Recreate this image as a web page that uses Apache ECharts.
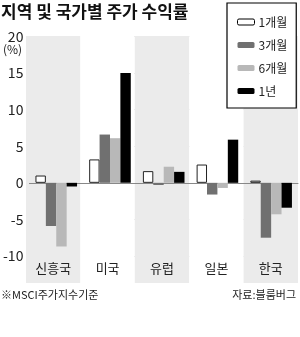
<!DOCTYPE html>
<html><head><meta charset="utf-8">
<script src="https://cdn.jsdelivr.net/npm/echarts@6/dist/echarts.min.js"></script>
<style>html,body{margin:0;padding:0;background:#fff}#c{width:300px;height:337px}</style>
</head><body><div id="c"></div>
<script>
const categories = ['신흥국', '미국', '유럽', '일본', '한국'];
const seriesNames = ['1개월', '3개월', '6개월', '1년'];
const m1 = [1.0, 3.2, 1.6, 2.5, 0.3];
const m3 = [-5.9, 6.6, -0.3, -1.6, -7.5];
const m6 = [-8.7, 6.1, 2.2, -0.7, -4.3];
const y1 = [-0.5, 15.0, 1.5, 5.9, -3.4];
const yTicks = [-10, -5, 0, 5, 10, 15, 20];

const colors = ['#ffffff', '#707070', '#b8b8b8', '#000000'];
const values = [m1, m3, m6, y1];
const FONT = '"Liberation Sans Narrow", "Noto Sans CJK KR", sans-serif';
const KFONT = '"Noto Sans CJK KR", sans-serif';

const chart = echarts.init(document.getElementById('c'), null, {renderer: 'canvas'});
chart.setOption({
  animation: false,
  backgroundColor: '#fff',
  title: [
    {text: '지역 및 국가별 주가 수익률', left: 1, top: 3, padding: 0,
     textStyle: {fontFamily: KFONT, fontSize: 17, fontWeight: 'bold', color: '#111'}},
    {text: '(%)', left: 3, top: 43, padding: 0,
     textStyle: {fontFamily: FONT, fontSize: 12, fontWeight: 'normal', color: '#222'}},
    {text: '※MSCI주가지수기준', left: 1, top: 289, padding: 0,
     textStyle: {fontFamily: KFONT, fontSize: 11, fontWeight: 'normal', color: '#222'}},
    {text: '자료:블룸버그', right: 4, top: 289, padding: 0,
     textStyle: {fontFamily: KFONT, fontSize: 11, fontWeight: 'normal', color: '#222'}}
  ],
  legend: {
    orient: 'vertical', left: 227, top: 3,
    padding: [12, 9, 10, 10],
    itemWidth: 17, itemHeight: 6, itemGap: 9, selectedMode: false,
    backgroundColor: '#fff', borderColor: '#000', borderWidth: 1.2, borderRadius: 0,
    textStyle: {fontFamily: KFONT, fontSize: 12, color: '#222', lineHeight: 14, padding: [0, 0, 0, -1]},
    data: seriesNames.map((n, i) => ({name: n, itemStyle: i === 0 ? {color: '#fff', borderColor: '#000', borderWidth: 1} : {color: colors[i]}}))
  },
  grid: [
    {left: 26, right: 2, top: 36, bottom: 54},
    {left: 26, right: 2, top: 36.5, bottom: 81}
  ],
  xAxis: [
    {type: 'category', gridIndex: 0, data: categories,
     axisLine: {show: false}, axisTick: {show: false},
     axisLabel: {inside: true, margin: 8, fontFamily: KFONT, fontSize: 13, color: '#222'},
     splitArea: {show: true, areaStyle: {color: ['#ebebeb', '#ffffff']}}},
    {type: 'category', gridIndex: 1, data: categories,
     axisLine: {onZero: true, lineStyle: {color: '#888', width: 1}},
     axisTick: {show: false}, axisLabel: {show: false}}
  ],
  yAxis: [
    {type: 'value', gridIndex: 0, min: 0, max: 1, show: false},
    {type: 'value', gridIndex: 1, min: yTicks[0], max: yTicks[yTicks.length - 1], interval: 5,
     axisLine: {show: false}, axisTick: {show: false},
     axisLabel: {margin: 6, fontFamily: FONT, fontSize: 14, color: '#222'},
     splitLine: {show: true, lineStyle: {color: '#aaa', type: [2, 2], width: 1}}}
  ],
  series: values.map((v, i) => ({
    name: seriesNames[i], type: 'bar', xAxisIndex: 1, yAxisIndex: 1,
    data: v, barWidth: 10.4, barGap: '0%',
    itemStyle: i === 0 ? {color: '#fff', borderColor: '#222', borderWidth: 1} : {color: colors[i]}
  }))
});
</script></body></html>
